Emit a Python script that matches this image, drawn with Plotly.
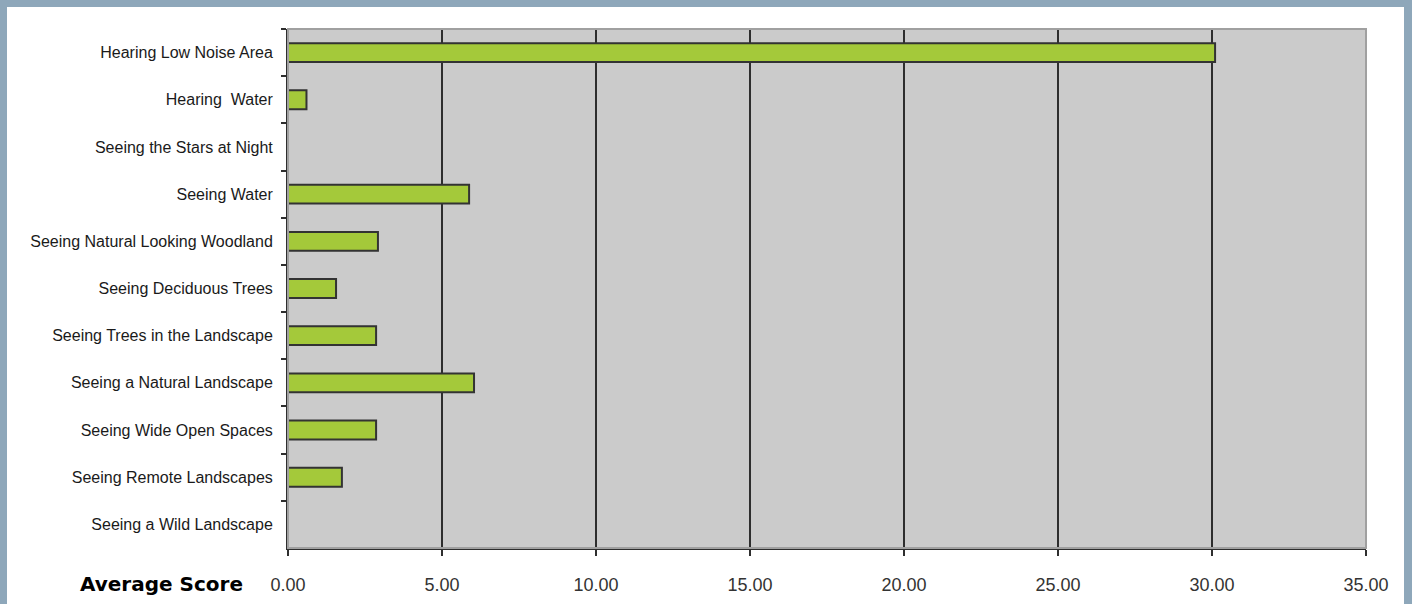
import plotly.graph_objects as go

categories = [
    "Hearing Low Noise Area",
    "Hearing  Water",
    "Seeing the Stars at Night",
    "Seeing Water",
    "Seeing Natural Looking Woodland",
    "Seeing Deciduous Trees",
    "Seeing Trees in the Landscape",
    "Seeing a Natural Landscape",
    "Seeing Wide Open Spaces",
    "Seeing Remote Landscapes",
    "Seeing a Wild Landscape",
]
scores = [30.10, 0.60, 0.0, 5.88, 2.92, 1.56, 2.86, 6.04, 2.86, 1.75, 0.0]
x_ticks = [0, 5, 10, 15, 20, 25, 30, 35]
x_tick_labels = ["0.00", "5.00", "10.00", "15.00", "20.00", "25.00", "30.00", "35.00"]
axis_title = "Average Score"

fig = go.Figure()
fig.add_trace(go.Bar(
    y=categories,
    x=scores,
    orientation="h",
    width=0.4,
    marker=dict(color="#a4c93a", line=dict(color="#333333", width=2)),
    hoverinfo="x+y",
))

W, H = 1412, 604
ml, mr, mt, mb = 288, 46, 29, 56
pw, ph = W - ml - mr, H - mt - mb


def px_x(p):
    return (p - ml) / pw


def px_y(p):
    return (H - mb - p) / ph


border = "#8ea7ba"
fig.update_layout(
    width=W, height=H,
    margin=dict(l=ml, r=mr, t=mt, b=mb, pad=0, autoexpand=False),
    paper_bgcolor="#ffffff",
    plot_bgcolor="#cbcbcb",
    showlegend=False,
    font=dict(family="Liberation Sans, Arial, sans-serif", color="#222222"),
    shapes=[
        # outer frame strips
        dict(type="rect", xref="paper", yref="paper", layer="below",
             x0=px_x(-5), x1=px_x(7), y0=px_y(650), y1=px_y(-5),
             fillcolor=border, line=dict(width=0)),
        dict(type="rect", xref="paper", yref="paper", layer="below",
             x0=px_x(-5), x1=px_x(1420), y0=px_y(7), y1=px_y(-5),
             fillcolor=border, line=dict(width=0)),
        dict(type="rect", xref="paper", yref="paper", layer="below",
             x0=px_x(1404), x1=px_x(1420), y0=px_y(650), y1=px_y(-5),
             fillcolor=border, line=dict(width=0)),
        # plot area edge
        dict(type="rect", xref="paper", yref="paper", layer="above",
             x0=0, x1=1, y0=0, y1=1,
             fillcolor="rgba(0,0,0,0)", line=dict(color="#a0a0a0", width=2)),
    ],
    annotations=[
        dict(text="<b>" + axis_title + "</b>", xref="paper", yref="paper",
             x=px_x(245), y=px_y(584), xanchor="right", yanchor="middle",
             showarrow=False,
             font=dict(family="DejaVu Sans, sans-serif", size=20, color="#000000")),
    ],
)

fig.update_xaxes(
    range=[0, 35],
    tickvals=x_ticks,
    ticktext=x_tick_labels,
    showgrid=True, gridcolor="#2e2e2e", gridwidth=2,
    zeroline=False,
    showline=True, linecolor="#2e2e2e", linewidth=2,
    ticks="outside", ticklen=6, tickwidth=2, tickcolor="#2e2e2e",
    tickfont=dict(size=18, color="#333333"),
    ticklabelstandoff=13,
    automargin=False,
)
fig.update_yaxes(
    autorange="reversed",
    showgrid=False,
    showline=True, linecolor="#2e2e2e", linewidth=2,
    ticks="outside", tickson="boundaries", ticklen=5, tickwidth=2, tickcolor="#2e2e2e",
    tickfont=dict(size=16, color="#1a1a1a"),
    ticklabelstandoff=10,
    automargin=False,
)

fig.write_html(
    "out.html",
    config={"displayModeBar": False},
    post_script="document.body.style.margin='0';document.body.style.overflow='hidden';",
)
